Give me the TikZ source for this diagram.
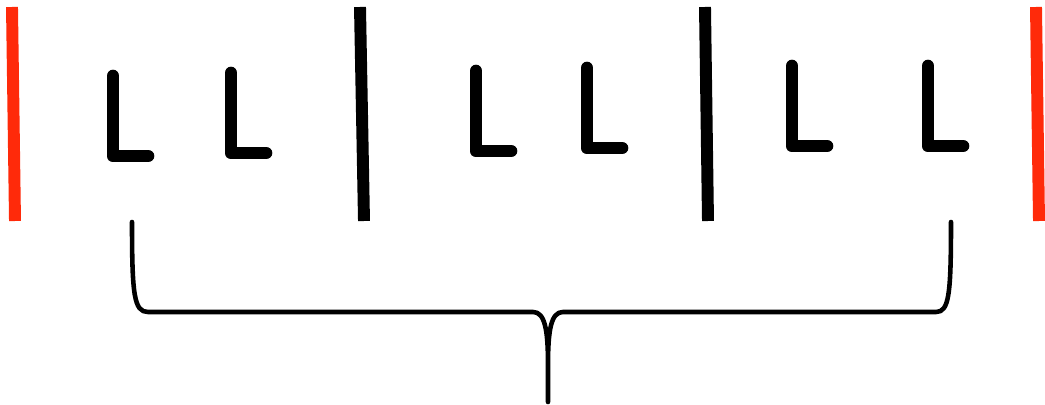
\documentclass[tikz,border=0pt]{standalone}
\usetikzlibrary{positioning}
\usepackage{xcolor}
\definecolor{BarRed}{HTML}{FF2A0A}

\begin{document}
\begin{tikzpicture}[x=0.02cm,y=-0.02cm]
    \tikzset{glyph/.style={line width=7.2pt,line cap=round,line join=round},
             bar/.style={line width=6.8pt},
             brace/.style={line width=2.6pt,line cap=round,line join=round}}
    \useasboundingbox (0,0) rectangle (1045,405);
    % separators
    \foreach \xt/\xb/\col in {12/15/BarRed, 360/364/black, 705/708/black, 1036/1039/BarRed}
      \draw[bar,color=\col] (\xt,7) -- (\xb,221);
    % the L letters
    \foreach \x/\y in {113/156, 231/153, 476/151, 587/148, 792/146, 928/146}
      \draw[glyph] (\x,\y-80) -- (\x,\y) -- (\x+35,\y);
    % brace under the letters
    \coordinate (bl) at (132,222);
    \coordinate (br) at (951,222);
    \coordinate (tip) at (548,402);
    \draw[brace] (bl) .. controls (132,295) and (134,312) .. (148,312)
      -- (533,312) .. controls (545,312) and (548,330) .. (548,365) -- (tip)
      -- (548,365) .. controls (548,330) and (551,312) .. (563,312)
      -- (936,312) .. controls (949,312) and (951,295) .. (br);
\end{tikzpicture}
\end{document}
